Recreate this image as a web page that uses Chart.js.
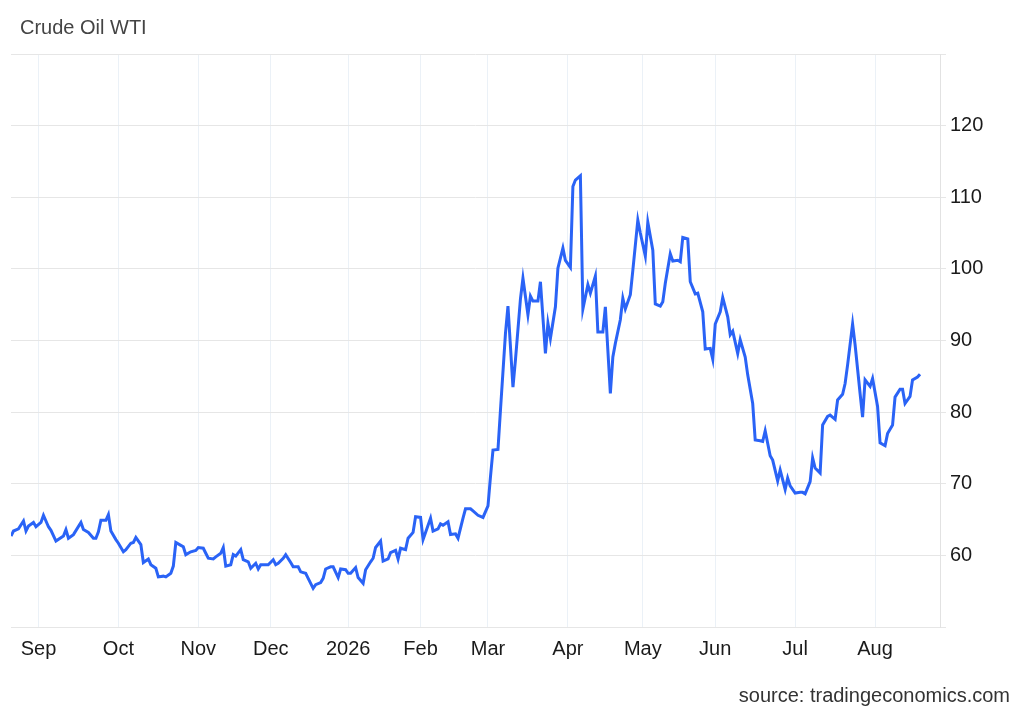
<!DOCTYPE html>
<html>

<head>
    <meta charset="UTF-8">
    <title>Crude Oil WTI</title>
    <script src="https://cdn.jsdelivr.net/npm/chart.js"></script>
    <style>
        body {
            margin: 0;
            background-color: #ffffff;
            font-family: Arial, "Liberation Sans", sans-serif;
        }

        .wrap {
            position: relative;
            width: 1024px;
            height: 710px;
        }

        .title {
            position: absolute;
            left: 20px;
            top: 17px;
            font-size: 20px;
            line-height: 20px;
            color: #444;
        }

        .source {
            position: absolute;
            right: 14px;
            top: 685px;
            font-size: 20px;
            line-height: 20px;
            color: #333;
        }

        canvas {
            position: absolute;
            left: 0;
            top: 0;
        }
    </style>
</head>

<body>
    <div class="wrap">
        <canvas id="oilChart" width="1024" height="710"></canvas>
        <div class="title">Crude Oil WTI</div>
        <div class="source">source: tradingeconomics.com</div>
    </div>

    <script>
        // x = day index along the axis (0 ~ 1 Sep 2025), y = USD/bbl
        var dayIndex = [
            -12, -11, -9, -7, -6, -5, -3, -2, 0, 1, 3, 4, 6, 9, 10, 11, 13, 16, 17, 19,
            21, 22, 23, 24, 26, 27, 28, 30, 31, 33, 34, 36, 37, 38, 40, 41, 43, 44, 46, 47,
            49, 50, 52, 53, 54, 56, 57, 58, 60, 62, 63, 65, 66, 67, 69, 70, 72, 73, 74, 76,
            77, 78, 80, 81, 83, 84, 86, 87, 88, 90, 91, 93, 94, 95, 97, 98, 100, 101, 103, 104,
            106, 107, 109, 110, 112, 113, 114, 116, 117, 119, 120, 122, 123, 124, 126, 127, 129, 130, 132, 133,
            134, 136, 137, 139, 140, 142, 143, 144, 146, 147, 149, 150, 152, 153, 154, 156, 157, 159, 160, 161,
            163, 164, 166, 167, 169, 170, 172, 173, 175, 177, 179, 180, 181, 183, 184, 186, 187, 189, 190, 192,
            193, 195, 196, 197, 199, 200, 202, 203, 204, 206, 207, 209, 210, 212, 213, 214, 216, 217, 219, 220,
            222, 223, 225, 226, 228, 229, 230, 232, 233, 234, 236, 237, 239, 240, 242, 243, 245, 246, 248, 249,
            250, 252, 253, 255, 256, 257, 259, 260, 262, 263, 265, 266, 268, 269, 270, 272, 273, 275, 276, 277,
            279, 280, 282, 283, 285, 286, 288, 289, 290, 292, 293, 295, 296, 298, 299, 300, 302, 304, 305, 306,
            308, 309, 310, 312, 313, 315, 316, 318, 319, 321, 322, 323, 325, 326, 328, 329, 330, 332, 333, 335,
            336, 338, 339, 341, 342, 344, 345, 346, 348, 349, 351, 352
        ];

        var prices = [
            62.7, 63.4, 63.7, 64.8, 63.4, 64.1, 64.6, 64.0, 64.6, 65.6, 64.0, 63.5, 62.0, 62.7, 63.6, 62.4, 62.9, 64.6, 63.6, 63.2,
            62.4, 62.4, 63.3, 64.9, 64.9, 65.7, 63.4, 62.2, 61.7, 60.5, 60.8, 61.7, 61.8, 62.5, 61.5, 59.0, 59.5, 58.7, 58.2, 57.0,
            57.1, 57.0, 57.5, 58.5, 61.8, 61.4, 61.2, 60.1, 60.5, 60.7, 61.1, 61.0, 60.3, 59.6, 59.5, 59.8, 60.3, 61.1, 58.5, 58.7,
            60.1, 59.9, 60.8, 59.4, 59.1, 58.2, 58.9, 58.1, 58.7, 58.7, 58.7, 59.4, 58.7, 58.9, 59.6, 60.1, 59.0, 58.4, 58.4, 57.7,
            57.5, 56.8, 55.4, 55.9, 56.2, 56.8, 58.1, 58.4, 58.4, 56.9, 58.1, 58.0, 57.5, 57.5, 58.3, 56.9, 56.1, 58.0, 59.1, 59.6,
            61.1, 62.0, 59.2, 59.5, 60.4, 60.7, 59.5, 61.0, 60.8, 62.4, 63.2, 65.4, 65.3, 62.2, 63.2, 65.2, 63.4, 63.7, 64.4, 64.2,
            64.7, 62.9, 63.0, 62.4, 65.2, 66.5, 66.5, 66.2, 65.6, 65.3, 66.9, 71.0, 74.7, 74.8, 80.3, 91.0, 94.8, 83.5, 87.3, 95.8,
            98.7, 93.6, 96.2, 95.5, 95.5, 98.2, 88.2, 92.4, 90.3, 94.7, 100.1, 102.9, 101.2, 100.2, 111.5, 112.4, 113.0, 94.4, 97.8, 96.6,
            99.0, 91.2, 91.2, 94.7, 82.6, 87.7, 89.6, 92.9, 95.9, 94.4, 96.4, 99.8, 106.8, 105.0, 101.8, 106.5, 102.6, 95.1, 94.8, 95.4,
            98.0, 102.1, 101.1, 101.2, 101.0, 104.4, 104.2, 98.2, 96.5, 96.6, 94.0, 88.8, 88.9, 87.4, 92.3, 94.0, 96.0, 93.3, 90.8, 91.3,
            88.2, 90.1, 87.7, 85.2, 81.2, 76.1, 76.0, 75.9, 77.4, 73.9, 73.3, 70.4, 71.9, 69.2, 70.8, 69.7, 68.7, 68.8, 68.8, 68.6,
            70.3, 73.6, 72.2, 71.5, 78.2, 79.4, 79.6, 79.0, 81.7, 82.5, 84.0, 86.6, 92.3, 89.4, 82.6, 79.3, 84.5, 83.6, 84.7, 80.8,
            75.7, 75.3, 77.0, 78.2, 82.1, 83.2, 83.2, 81.2, 82.2, 84.5, 84.9, 85.3
        ];

        // month labels and where they sit on the day index
        var monthTicks = [-1, 31, 63, 92, 123, 152, 179, 211, 241, 270, 302, 334];
        var monthLabels = ['Sep', 'Oct', 'Nov', 'Dec', '2026', 'Feb', 'Mar', 'Apr', 'May', 'Jun', 'Jul', 'Aug'];

        var priceTicks = [50, 60, 70, 80, 90, 100, 110, 120, 130];

        var tickFont = { family: 'Arial, "Liberation Sans", sans-serif', size: 20 };

        var points = dayIndex.map(function (d, i) {
            return { x: d, y: prices[i] };
        });

        var ctx = document.getElementById('oilChart').getContext('2d');
        var oilChart = new Chart(ctx, {
            type: 'line',
            data: {
                datasets: [{
                    label: 'Crude Oil WTI',
                    data: points,
                    borderColor: '#2a63f6',
                    borderWidth: 3,
                    pointRadius: 0,
                    tension: 0,
                    fill: false
                }]
            },
            options: {
                responsive: false,
                animation: false,
                layout: {
                    padding: { left: 11, top: 54, right: 0, bottom: 0 }
                },
                plugins: {
                    legend: { display: false },
                    tooltip: { enabled: false }
                },
                scales: {
                    x: {
                        type: 'linear',
                        min: -12,
                        max: 360,
                        afterBuildTicks: function (scale) {
                            scale.ticks = monthTicks.map(function (v) { return { value: v }; });
                        },
                        afterFit: function (scale) {
                            scale.height = 83;
                        },
                        ticks: {
                            autoSkip: false,
                            maxRotation: 0,
                            padding: 10,
                            color: '#1a1a1a',
                            font: tickFont,
                            callback: function (value, index) {
                                return monthLabels[index];
                            }
                        },
                        grid: {
                            color: '#ebf1f7',
                            drawTicks: false
                        },
                        border: { color: '#e6e6e6' }
                    },
                    y: {
                        position: 'right',
                        min: 50,
                        max: 130,
                        afterBuildTicks: function (scale) {
                            scale.ticks = priceTicks.map(function (v) { return { value: v }; });
                        },
                        afterFit: function (scale) {
                            scale.width = 84;
                        },
                        ticks: {
                            padding: 4,
                            color: '#1a1a1a',
                            font: tickFont,
                            callback: function (value) {
                                return (value === 50 || value === 130) ? '' : value;
                            }
                        },
                        grid: {
                            color: '#e6e6e6',
                            tickLength: 6
                        },
                        border: { color: '#e2e2e2' }
                    }
                }
            }
        });
    </script>
</body>

</html>
